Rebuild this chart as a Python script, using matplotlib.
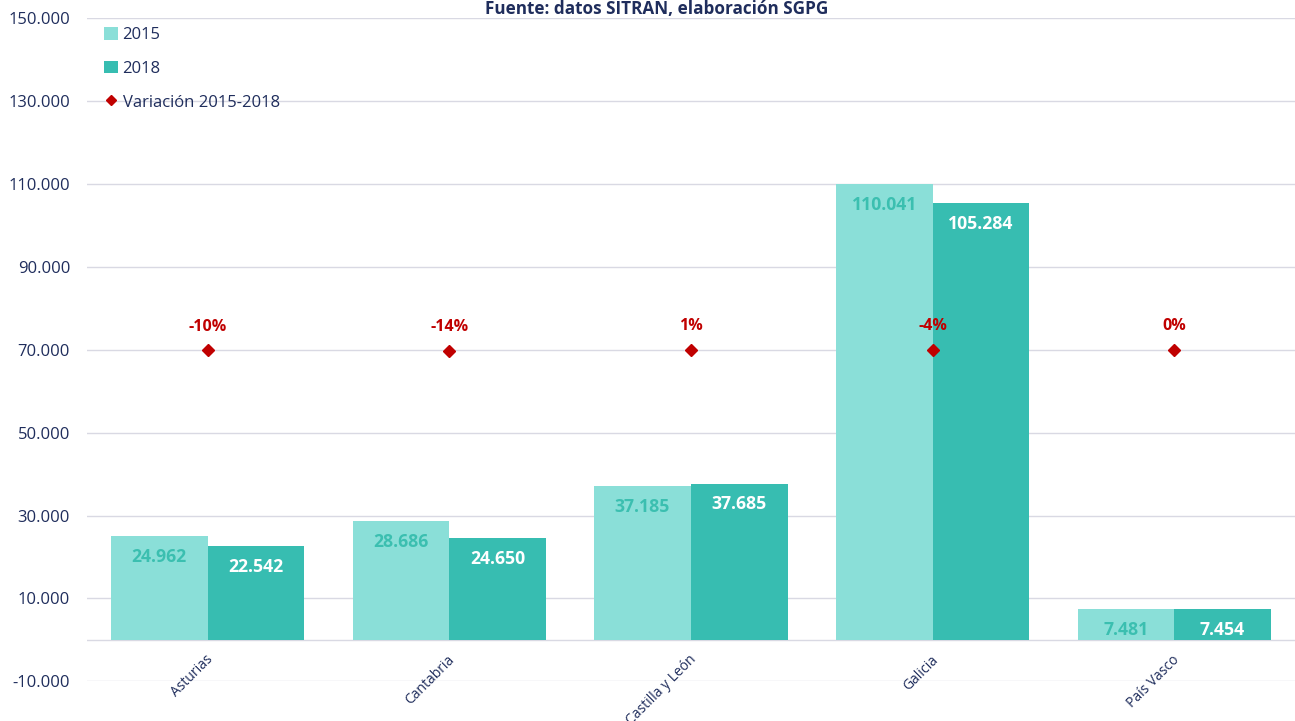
import matplotlib
matplotlib.use('Agg')
import matplotlib.pyplot as plt
import numpy as np

plt.rcParams['font.family'] = ['Open Sans', 'DejaVu Sans']

regiones = ['Asturias', 'Cantabria', 'Castilla y León', 'Galicia', 'País Vasco']
v2015 = [24962, 28686, 37185, 110041, 7481]
v2018 = [22542, 24650, 37685, 105284, 7454]
variacion = [-0.10, -0.14, 0.01, -0.04, 0.00]

c15 = '#8ADFD8'
c18 = '#37BDB1'
rojo = '#C00000'
azul = '#1F2D5C'

def fmt(v):
    return f'{v:,.0f}'.replace(',', '.')

fig = plt.figure(figsize=(12.95, 7.21), dpi=100)
ax = fig.add_axes([0.067, 0.055, 0.933, 0.92])

x = np.arange(len(regiones))
w = 0.4
b1 = ax.bar(x - w/2, v2015, w, color=c15, label='2015', zorder=2)
b2 = ax.bar(x + w/2, v2018, w, color=c18, label='2018', zorder=2)

for r, v in zip(b1, v2015):
    ax.annotate(fmt(v), (r.get_x() + r.get_width()/2, v), xytext=(0, -15), textcoords='offset points',
                ha='center', va='center', color='#3BBFB0', fontsize=12.7, fontweight='bold', zorder=3)
for r, v in zip(b2, v2018):
    ax.annotate(fmt(v), (r.get_x() + r.get_width()/2, v), xytext=(0, -15), textcoords='offset points',
                ha='center', va='center', color='white', fontsize=12.7, fontweight='bold', zorder=3)

ax.set_ylim(-10000, 150000)
ax.set_xlim(-0.5, 4.5)
ax.set_yticks(np.arange(-10000, 150001, 20000))
ax.set_yticklabels([fmt(t) for t in np.arange(-10000, 150001, 20000)], color=azul, fontsize=12)
ax.yaxis.grid(True, color='#D9D9E3', linewidth=1, zorder=0)
ax.axhline(0, color='#D9D9E3', linewidth=1, zorder=1)
ax.set_xticks([])
ax.tick_params(length=0)
ax.tick_params(axis='y', pad=12)
for s in ax.spines.values():
    s.set_visible(False)

# nombres de region justo debajo de la linea del cero
for xi, nom in zip(x, regiones):
    ax.annotate(nom, (xi, 0), xytext=(-1.5, -9), textcoords='offset points', rotation=45,
                rotation_mode='anchor', ha='right', va='top', color=azul, fontsize=10)

# eje secundario para la variacion (rango amplio para que queden a la misma altura)
ax2 = ax.twinx()
ax2.set_ylim(-50, 50)
d = ax2.plot(x, variacion, 'D', color=rojo, markersize=6, label='Variación 2015-2018', zorder=4)
for xi, v in zip(x, variacion):
    ax2.annotate(f'{v:.0%}', (xi, v), xytext=(0, 17), textcoords='offset points',
                 ha='center', va='center', color=rojo, fontsize=11.5, fontweight='bold')
ax2.axis('off')

h = [b1, b2, d[0]]
leg = ax.legend(h, ['2015', '2018', 'Variación 2015-2018'], loc='upper left', bbox_to_anchor=(0.002, 1.009),
                frameon=False, fontsize=12, labelspacing=1.05, handlelength=0.8, handleheight=0.8,
                handletextpad=0.3, markerscale=0.8)
for t in leg.get_texts():
    t.set_color(azul)

fig.text(0.507, 0.987, 'Fuente: datos SITRAN, elaboración SGPG', ha='center', va='center',
         color=azul, fontsize=12.3, fontweight='bold')

fig.savefig('out.png', dpi=100)
